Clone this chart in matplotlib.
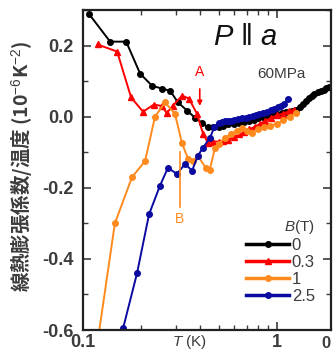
import numpy as np
import matplotlib
matplotlib.use('Agg')
import matplotlib.pyplot as plt
from matplotlib.ticker import MultipleLocator, FixedLocator, NullFormatter

plt.rcParams['font.family'] = ['Liberation Sans', 'Noto Sans CJK JP', 'DejaVu Sans']
plt.rcParams['mathtext.fontset'] = 'custom'
plt.rcParams['mathtext.rm'] = 'Liberation Sans'
plt.rcParams['mathtext.it'] = 'Liberation Sans:italic'

# data (T in K, alpha/T in 1e-6 K^-2)
black_T = [0.107, 0.138, 0.167, 0.197, 0.227, 0.255, 0.281, 0.309, 0.344, 0.378, 0.41, 0.44,
           0.47, 0.5, 0.53, 0.56, 0.6, 0.64, 0.68, 0.72, 0.76, 0.8, 0.85, 0.9, 0.95, 1.0,
           1.06, 1.12, 1.19, 1.26, 1.31, 1.36, 1.41, 1.46, 1.51, 1.56, 1.62, 1.68, 1.74,
           1.8, 1.86, 1.92]
black_y = [0.29, 0.211, 0.211, 0.121, 0.087, 0.079, 0.073, 0.04, 0.017, -0.003, -0.017, -0.03,
           -0.03, -0.028, -0.025, -0.022, -0.02, -0.017, -0.014, -0.011, -0.008, -0.005, -0.002,
           0.001, 0.004, 0.007, 0.01, 0.013, 0.016, 0.02, 0.028, 0.036, 0.044, 0.052, 0.058,
           0.063, 0.068, 0.072, 0.076, 0.08, 0.083, 0.086]

red_T = [0.119, 0.150, 0.177, 0.204, 0.232, 0.255, 0.27, 0.291, 0.324, 0.352, 0.387, 0.416,
         0.44, 0.47, 0.5, 0.53, 0.56, 0.6, 0.64, 0.68, 0.72, 0.77, 0.82, 0.87, 0.93, 1.0,
         1.07, 1.15, 1.23]
red_y = [0.203, 0.183, 0.054, 0.014, 0.034, 0.03, 0.01, 0.031, 0.059, 0.051, 0.008, -0.048,
         -0.073, -0.07, -0.07, -0.068, -0.065, -0.058, -0.05, -0.044, -0.036, -0.028, -0.02,
         -0.012, -0.004, 0.004, 0.008, 0.015, 0.02]

orange_T = [0.11, 0.146, 0.179, 0.209, 0.235, 0.265, 0.298, 0.324, 0.348, 0.37, 0.39, 0.43,
            0.45, 0.48, 0.5, 0.54, 0.58, 0.62, 0.66, 0.7, 0.74, 0.8, 0.86, 0.92, 1.0, 1.08,
            1.17, 1.25]
orange_y = [-0.76, -0.30, -0.17, -0.125, 0.0, 0.04, 0.008, -0.075, -0.118, -0.124, -0.11,
            -0.144, -0.15, -0.087, -0.076, -0.06, -0.048, -0.04, -0.031, -0.04, -0.045, -0.034,
            -0.03, -0.025, -0.02, -0.01, 0.0, 0.01]

blue_T = [0.161, 0.190, 0.219, 0.249, 0.274, 0.305, 0.336, 0.365, 0.391, 0.416, 0.452, 0.475,
          0.5, 0.52, 0.54, 0.56, 0.58, 0.6, 0.63, 0.66, 0.69, 0.72, 0.75, 0.78, 0.81, 0.85,
          0.89, 0.93, 0.97, 1.01, 1.05, 1.09, 1.14]
blue_y = [-0.595, -0.44, -0.275, -0.195, -0.144, -0.161, -0.133, -0.152, -0.11, -0.087, -0.059,
          -0.03, -0.018, -0.015, -0.013, -0.012, -0.011, -0.009, -0.007, -0.005, -0.003, 0.0,
          0.002, 0.005, 0.008, 0.011, 0.014, 0.018, 0.022, 0.026, 0.03, 0.036, 0.05]

series = [
    (black_T, black_y, 'black', 'o', '0'),
    (red_T, red_y, '#ff0000', '^', '0.3'),
    (orange_T, orange_y, '#ff8a1e', 'o', '1'),
    (blue_T, blue_y, '#0a0aa0', 'o', '2.5'),
]

gray = '#3c3c3c'

fig = plt.figure(figsize=(3.34, 3.51), dpi=100)
ax = fig.add_axes([83 / 334, 1 - 330 / 351, (331 - 83) / 334, 320 / 351])

for T, y, c, m, lab in series:
    ax.plot(T, y, color=c, marker=m, markersize=4, lw=1.4, label=lab)

ax.set_xscale('log')
ax.set_xlim(0.1, 1.9)
ax.set_ylim(-0.6, 0.3)

ax.xaxis.set_major_locator(FixedLocator([0.1, 1]))
ax.xaxis.set_minor_locator(FixedLocator([0.2, 0.3, 0.4, 0.5, 0.6, 0.7, 0.8, 0.9]))
ax.xaxis.set_minor_formatter(NullFormatter())
ax.set_xticklabels(['0.1', '1'])
ax.yaxis.set_major_locator(MultipleLocator(0.2))
ax.yaxis.set_minor_locator(MultipleLocator(0.1))
ax.set_yticklabels([f'{v:.1f}' for v in ax.get_yticks()])

ax.tick_params(which='both', direction='in', top=True, right=True, color=gray,
               labelcolor=gray, labelsize=13)
ax.tick_params(which='major', length=6, width=1.2)
ax.tick_params(axis='y', which='major', pad=7)
ax.tick_params(axis='x', which='major', pad=3)
ax.tick_params(which='minor', length=3.5, width=1.0)
for lbl in ax.get_xticklabels() + ax.get_yticklabels():
    lbl.set_fontweight('bold')
for s in ax.spines.values():
    s.set_linewidth(1.6)
    s.set_color('#222222')

ax.set_ylabel('線熱膨張係数/温度 (10$^{-6}$K$^{-2}$)', fontsize=14, color=gray,
              fontweight='bold', family=['Noto Sans CJK JP', 'DejaVu Sans'])
ax.yaxis.set_label_coords(-(83 - 34) / 248, 0.51)
ax.text(0.43, -0.038, '$T$ (K)', transform=ax.transAxes, fontsize=11, color=gray,
        ha='center', va='center')

ax.text(0.655, 0.915, r'$P\ \|\ a$', transform=ax.transAxes, fontsize=21,
        ha='center', va='center', color='#111111')
ax.text(0.8, 0.8, '60MPa', transform=ax.transAxes, fontsize=11, ha='center',
        va='center', color=gray)

# A and B markers
ax.annotate('A', xy=(0.40, 0.03), xytext=(0.40, 0.125), color='#ff0000', fontsize=10,
            ha='center', va='center',
            arrowprops=dict(arrowstyle='-|>', color='#ff0000', lw=1.2, mutation_scale=7,
                            shrinkA=5, shrinkB=0))
ax.plot([0.316, 0.316], [-0.10, -0.255], color='#ff8a1e', lw=1.2)
ax.text(0.316, -0.288, 'B', color='#ff8a1e', fontsize=10, ha='center', va='center')

leg = ax.legend(loc='lower right', bbox_to_anchor=(0.975, 0.05), frameon=False,
                title='$B$(T)', fontsize=12, title_fontsize=11, handlelength=2.6,
                handletextpad=0.15, labelspacing=0.12, borderaxespad=0.2,
                alignment='right')
for t in leg.get_texts():
    t.set_color(gray)
leg.get_title().set_color(gray)
for h in leg.legend_handles:
    h.set_linewidth(2.5)

fig.text(326 / 334, 1 - 343 / 351, '0', fontsize=12, color=gray, ha='center',
         va='center', fontweight='bold')

fig.savefig('out.png', dpi=100)
